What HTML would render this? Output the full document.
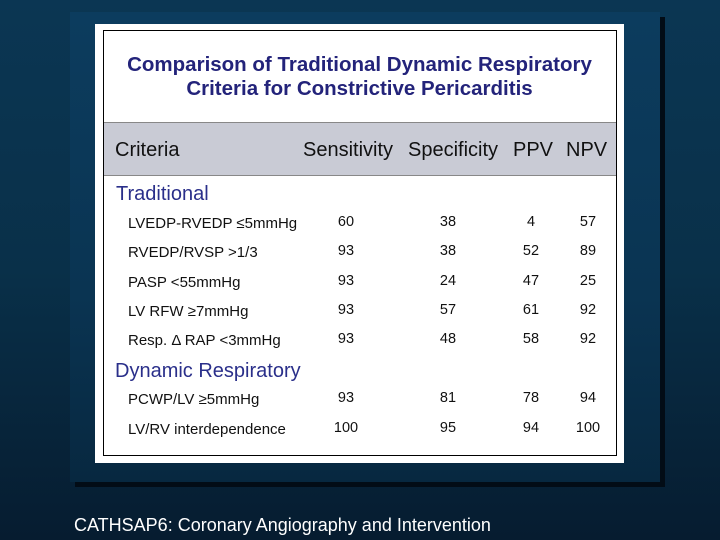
<!DOCTYPE html>
<html><head><meta charset="utf-8"><style>
body{margin:0;width:720px;height:540px;overflow:hidden;background:linear-gradient(180deg,#0b3653 0%,#093049 50%,#061c30 100%);font-family:"Liberation Sans",sans-serif;position:relative}
.abs{position:absolute}
#shadow{left:75px;top:17px;width:590px;height:470px;background:#020c16}
#panel{left:70px;top:12px;width:590px;height:470px;background:linear-gradient(180deg,#0c3c5e 0%,#0a3452 60%,#072840 100%)}
#white{left:95px;top:24px;width:529px;height:439px;background:#fff}
#frame{left:103px;top:30px;width:512px;height:424px;border:1.5px solid #000}
#band{left:104px;top:122px;width:512px;height:52px;background:#c9cbd5;border-top:1px solid #888;border-bottom:1px solid #888}
.t{font-weight:bold;color:#23237a;font-size:20.5px;text-align:center;width:529px;left:95px}
.h{font-size:20px;color:#111;top:139px}
.sec{color:#2a2f8a;font-size:20px;left:116px}
.lab{font-size:15px;color:#111;left:128px}
.n{font-size:14.5px;color:#111;width:40px;text-align:center}
#foot{left:74px;top:515px;color:#fff;font-size:18px}
</style></head><body>
<div class="abs" id="shadow"></div>
<div class="abs" id="panel"></div>
<div class="abs" id="white"></div>
<div class="abs" id="frame"></div>
<div class="abs t" style="top:53px">Comparison of Traditional Dynamic Respiratory</div>
<div class="abs t" style="top:77px">Criteria for Constrictive Pericarditis</div>
<div class="abs" id="band"></div>
<div class="abs h" style="left:115px">Criteria</div>
<div class="abs h" style="left:303px">Sensitivity</div>
<div class="abs h" style="left:408px">Specificity</div>
<div class="abs h" style="left:513px">PPV</div>
<div class="abs h" style="left:566px">NPV</div>
<div class="abs sec" style="top:183px">Traditional</div>
<div class="abs sec" style="top:360px;left:115px">Dynamic Respiratory</div>
<div id="rows"></div>
<div class="abs" id="foot">CATHSAP6:  Coronary Angiography and Intervention</div>
<script>
const labels=["LVEDP-RVEDP \u22645mmHg","RVEDP/RVSP >1/3","PASP <55mmHg","LV RFW \u22657mmHg","Resp. \u0394 RAP <3mmHg","PCWP/LV \u22655mmHg","LV/RV interdependence"];
const sens=[60,93,93,93,93,93,100];
const spec=[38,38,24,57,48,81,95];
const ppv=[4,52,47,61,58,78,94];
const npv=[57,89,25,92,92,94,100];
const tops=[214,243,273,302,331,390,420];
const cols=[[sens,346],[spec,448],[ppv,531],[npv,588]];
const root=document.getElementById('rows');
labels.forEach((l,i)=>{
  const d=document.createElement('div');
  d.className='abs lab';d.style.top=(tops[i]+1)+'px';d.textContent=l;
  
  
  root.appendChild(d);
  cols.forEach(([arr,cx])=>{
    const e=document.createElement('div');
    e.className='abs n';e.style.top=tops[i]+'px';e.style.left=(cx-20)+'px';e.textContent=arr[i];
    
    
    root.appendChild(e);
  });
});
</script>
</body></html>
